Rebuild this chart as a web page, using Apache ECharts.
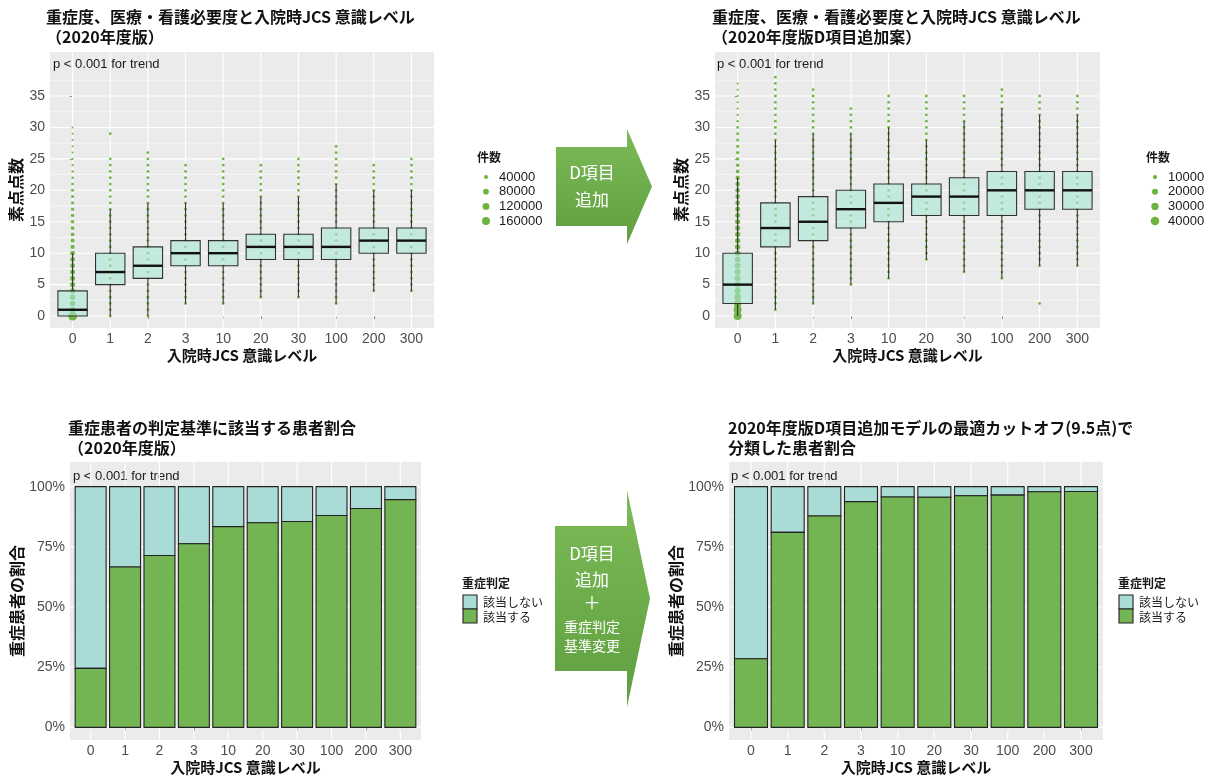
<!DOCTYPE html>
<html>
<head>
<meta charset="utf-8">
<script src="https://cdn.jsdelivr.net/npm/echarts@6/dist/echarts.min.js"></script>
<style>
  html, body { margin: 0; padding: 0; background: #ffffff; }
  #chart { width: 1215px; height: 778px; }
</style>
</head>
<body>
<div id="chart"></div>
<script>
// ---- data ----
const jcsLevels = ['0', '1', '2', '3', '10', '20', '30', '100', '200', '300'];

// 素点点数 box statistics per JCS level: [lower whisker, Q1, median, Q3, upper whisker]
const box2020 = [
  [0, 0, 1, 4, 10], [0, 5, 7, 10, 17], [0, 6, 8, 11, 18], [2, 8, 10, 12, 18], [2, 8, 10, 12, 18],
  [3, 9, 11, 13, 19], [3, 9, 11, 13, 19], [2, 9, 11, 14, 21], [4, 10, 12, 14, 20], [4, 10, 12, 14, 20]
];
const boxD = [
  [0, 2, 5, 10, 22], [1, 11, 14, 18, 28], [2, 12, 15, 19, 29], [5, 14, 17, 20, 29], [6, 15, 18, 21, 30],
  [9, 16, 19, 21, 28], [7, 16, 19, 22, 31], [6, 16, 20, 23, 33], [8, 17, 20, 23, 32], [8, 17, 20, 23, 32]
];

// contiguous observed score range (lowest, highest) per JCS level
const dotRange2020 = [[0, 30], [0, 25], [0, 26], [2, 24], [2, 25], [3, 24], [3, 25], [2, 27], [4, 24], [4, 25]];
const dotRangeD = [[0, 37], [1, 38], [2, 36], [5, 33], [6, 35], [9, 35], [7, 35], [6, 36], [8, 35], [8, 35]];
// isolated scores outside those ranges: [JCS index, score]
const loneDots2020 = [[1, 29]];
const loneDotsD = [[8, 2]];

// 件数 at JCS 0 for each score 0,1,2,...
const countJcs0_2020 = [200000, 80000, 75000, 72000, 70000, 68000, 66000, 63000, 60000, 57000, 54000,
  44000, 40000, 37000, 34000, 31000, 29000, 27000, 25000, 23000, 21000, 18000, 16000, 14000, 12500,
  11000, 9500, 8000, 7000, 6000, 5000];
const countJcs0_D = [36000, 34000, 32000, 24000, 22000, 21000, 20000, 19000, 18500, 18000, 17000,
  16000, 15500, 15000, 14500, 14000, 13500, 13000, 12500, 12000, 11500, 11000, 10500, 7500, 7000, 6500,
  6000, 5500, 5000, 4500, 4000, 3200, 2800, 2500, 2200, 2000, 1800, 1600];

// size legend breaks
const sizeBreaks2020 = [40000, 80000, 120000, 160000];
const sizeBreaksD = [10000, 20000, 30000, 40000];

// share of patients meeting the severity criterion (該当する)
const share2020 = [0.245, 0.666, 0.714, 0.763, 0.834, 0.850, 0.855, 0.880, 0.909, 0.946];
const shareCutoff = [0.285, 0.810, 0.878, 0.938, 0.957, 0.956, 0.962, 0.965, 0.979, 0.980];

const scoreBreaks = [0, 5, 10, 15, 20, 25, 30, 35];
const scoreMinor = [2.5, 7.5, 12.5, 17.5, 22.5, 27.5, 32.5, 37.5];
const pctBreaks = [0, 0.25, 0.5, 0.75, 1];
const pctMinor = [0.125, 0.375, 0.625, 0.875];

// ---- styling ----
const FONT = '"Liberation Sans", "Noto Sans CJK JP", sans-serif';
const JFONT = '"Noto Sans CJK JP", sans-serif';
const PANEL_BG = '#ebebeb';
const DOT_GREEN = '#6db33f';
const BOX_FILL = 'rgba(168,230,211,0.6)';
const BAR_GREEN = '#72b552';
const BAR_LIGHT = '#a9dcd6';
const INK = '#222222';

const panels = [
  { left: 50, top: 52, width: 384, height: 276 },
  { left: 715, top: 52, width: 385, height: 276 },
  { left: 70, top: 462, width: 351, height: 278 },
  { left: 729, top: 462, width: 374, height: 278 }
];

const chart = echarts.init(document.getElementById('chart'), null, { renderer: 'canvas' });

function xAxisFor(g) {
  return {
    gridIndex: g, type: 'value', min: -0.6, max: 9.6,
    axisLine: { show: false },
    axisTick: { show: true, customValues: [0, 1, 2, 3, 4, 5, 6, 7, 8, 9], length: 3, lineStyle: { color: '#333', width: 1 } },
    axisLabel: {
      customValues: [0, 1, 2, 3, 4, 5, 6, 7, 8, 9],
      formatter: v => jcsLevels[Math.round(v)],
      color: '#4d4d4d', fontSize: 14, fontFamily: FONT, margin: 4
    },
    splitLine: { show: false },
    name: '入院時JCS 意識レベル', nameLocation: 'middle', nameGap: 20,
    nameTextStyle: { color: '#111', fontSize: 15, fontWeight: 'bold', fontFamily: JFONT }
  };
}
function yAxisFor(g, isPct) {
  const breaks = isPct ? pctBreaks : scoreBreaks;
  return {
    gridIndex: g, type: 'value',
    min: isPct ? -0.0525 : -1.9, max: isPct ? 1.1025 : 42,
    axisLine: { show: false },
    axisTick: { show: true, customValues: breaks, length: 3, lineStyle: { color: '#333', width: 1 } },
    axisLabel: {
      customValues: breaks,
      formatter: v => isPct ? Math.round(v * 100) + '%' : String(v),
      color: '#4d4d4d', fontSize: 14, fontFamily: FONT, margin: 5
    },
    splitLine: { show: false },
    name: isPct ? '重症患者の割合' : '素点点数', nameLocation: 'middle', nameRotate: 90,
    nameGap: isPct ? 44 : 26,
    nameTextStyle: { color: '#111', fontSize: 16, fontWeight: 'bold', fontFamily: JFONT }
  };
}

// white panel grid lines drawn through the axes' own scales
function hLines(g, values, width) {
  return {
    type: 'custom', xAxisIndex: g, yAxisIndex: g, silent: true, z: 1,
    data: values.map(v => [0, v]),
    encode: { x: 0, y: 1 },
    renderItem(params, api) {
      const cs = params.coordSys;
      const y = api.coord([0, api.value(1)])[1];
      return { type: 'line', shape: { x1: cs.x, y1: y, x2: cs.x + cs.width, y2: y }, style: { stroke: '#ffffff', lineWidth: width } };
    }
  };
}
function vLines(g) {
  return {
    type: 'custom', xAxisIndex: g, yAxisIndex: g, silent: true, z: 1,
    data: jcsLevels.map((c, i) => [i, 0]),
    encode: { x: 0, y: 1 },
    renderItem(params, api) {
      const cs = params.coordSys;
      const x = api.coord([api.value(0), 0])[0];
      return { type: 'line', shape: { x1: x, y1: cs.y, x2: x, y2: cs.y + cs.height }, style: { stroke: '#ffffff', lineWidth: 1.1 } };
    }
  };
}

// geom_count style points: one dot per observed integer score
function countDots(g, ranges, lone, zeroCounts, k) {
  const pts = [];
  ranges.forEach((r, i) => {
    for (let s = r[0]; s <= r[1]; s++) {
      pts.push([i, s, i === 0 ? zeroCounts[s] : null]);
    }
  });
  lone.forEach(d => pts.push([d[0], d[1], null]));
  return {
    type: 'scatter', xAxisIndex: g, yAxisIndex: g, silent: true, z: 2,
    data: pts,
    symbol: 'circle',
    symbolSize: v => v[2] == null ? 2.8 : Math.max(2, k * Math.sqrt(v[2])),
    itemStyle: { color: DOT_GREEN, opacity: 0.95 }
  };
}

function boxes(g, stats) {
  return {
    type: 'custom', xAxisIndex: g, yAxisIndex: g, silent: true, z: 3,
    data: stats.map((b, i) => [i].concat(b)),
    encode: { x: 0, y: [1, 2, 3, 4, 5] },
    renderItem(params, api) {
      const x = api.value(0);
      const half = api.size([0.78, 0])[0] / 2;
      const pLo = api.coord([x, api.value(1)]);
      const pQ1 = api.coord([x, api.value(2)]);
      const pMed = api.coord([x, api.value(3)]);
      const pQ3 = api.coord([x, api.value(4)]);
      const pHi = api.coord([x, api.value(5)]);
      return {
        type: 'group', children: [
          { type: 'line', shape: { x1: pLo[0], y1: pLo[1], x2: pQ1[0], y2: pQ1[1] }, style: { stroke: '#333', lineWidth: 1.1 } },
          { type: 'line', shape: { x1: pQ3[0], y1: pQ3[1], x2: pHi[0], y2: pHi[1] }, style: { stroke: '#333', lineWidth: 1.1 } },
          { type: 'rect', shape: { x: pQ1[0] - half, y: pQ3[1], width: half * 2, height: pQ1[1] - pQ3[1] }, style: { fill: BOX_FILL, stroke: '#333', lineWidth: 1.1 } },
          { type: 'line', shape: { x1: pMed[0] - half, y1: pMed[1], x2: pMed[0] + half, y2: pMed[1] }, style: { stroke: '#111', lineWidth: 2.4 } }
        ]
      };
    }
  };
}

function stackedBars(g, share) {
  return {
    type: 'custom', xAxisIndex: g, yAxisIndex: g, silent: true, z: 3,
    data: share.map((p, i) => [i, p]),
    encode: { x: 0, y: 1 },
    renderItem(params, api) {
      const x = api.value(0);
      const half = api.size([0.9, 0])[0] / 2;
      const p0 = api.coord([x, 0]);
      const pS = api.coord([x, api.value(1)]);
      const p1 = api.coord([x, 1]);
      return {
        type: 'group', children: [
          { type: 'rect', shape: { x: p0[0] - half, y: p1[1], width: half * 2, height: pS[1] - p1[1] }, style: { fill: BAR_LIGHT, stroke: INK, lineWidth: 1.1 } },
          { type: 'rect', shape: { x: p0[0] - half, y: pS[1], width: half * 2, height: p0[1] - pS[1] }, style: { fill: BAR_GREEN, stroke: INK, lineWidth: 1.1 } }
        ]
      };
    }
  };
}

// ---- decorations: size legends, fill legends, trend notes, arrows ----
function txt(x, y, text, size, weight, family) {
  return {
    type: 'text', x: x, y: y,
    style: { text: text, fill: '#1a1a1a', font: (weight || 'normal') + ' ' + size + 'px ' + (family || JFONT), textVerticalAlign: 'middle' }
  };
}
function sizeLegend(x, breaks, k) {
  const els = [txt(x, 157, '件数', 12, 'bold')];
  breaks.forEach((b, i) => {
    const y = 177 + i * 14.7;
    els.push({ type: 'circle', shape: { cx: x + 9, cy: y, r: k * Math.sqrt(b) / 2 }, style: { fill: DOT_GREEN } });
    els.push(txt(x + 22, y, String(b), 13, 'normal', FONT));
  });
  return els;
}
function fillLegend(x) {
  return [
    txt(x, 583, '重症判定', 12, 'bold'),
    { type: 'rect', shape: { x: x + 1, y: 595, width: 14, height: 14 }, style: { fill: BAR_LIGHT, stroke: INK, lineWidth: 1.1 } },
    { type: 'rect', shape: { x: x + 1, y: 609, width: 14, height: 14 }, style: { fill: BAR_GREEN, stroke: INK, lineWidth: 1.1 } },
    txt(x + 21, 602, '該当しない', 12, 'normal'),
    txt(x + 21, 617, '該当する', 12, 'normal')
  ];
}
function arrow(x0, x1, tip, bodyTop, bodyBot, headTop, headBot) {
  const cy = (headTop + headBot) / 2;
  return {
    type: 'polygon',
    shape: { points: [[x0, bodyTop], [x1, bodyTop], [x1, headTop], [tip, cy], [x1, headBot], [x1, bodyBot], [x0, bodyBot]] },
    style: {
      fill: new echarts.graphic.LinearGradient(0, 0, 0, 1, [
        { offset: 0, color: '#7dbb58' }, { offset: 1, color: '#5f9f3f' }
      ])
    }
  };
}
function whiteText(x, y, text, size) {
  return { type: 'text', x: x, y: y, style: { text: text, fill: '#ffffff', font: size + 'px ' + JFONT, textAlign: 'center', textVerticalAlign: 'middle' } };
}

const graphics = []
  .concat(sizeLegend(477, sizeBreaks2020, 0.02))
  .concat(sizeLegend(1146, sizeBreaksD, 0.0425))
  .concat(fillLegend(462))
  .concat(fillLegend(1118))
  .concat([
    txt(53, 64, 'p < 0.001 for trend', 13, 'normal', FONT),
    txt(717, 64, 'p < 0.001 for trend', 13, 'normal', FONT),
    txt(73, 476, 'p < 0.001 for trend', 13, 'normal', FONT),
    txt(731, 476, 'p < 0.001 for trend', 13, 'normal', FONT),
    arrow(556, 627, 652, 147, 226, 129, 244),
    whiteText(592, 173, 'D項目', 17),
    whiteText(592, 200, '追加', 17),
    arrow(555, 627, 650, 526, 671, 490, 707),
    whiteText(592, 554, 'D項目', 17),
    whiteText(592, 580, '追加', 17),
    whiteText(592, 603, '＋', 17),
    whiteText(592, 627, '重症判定', 14),
    whiteText(592, 646, '基準変更', 14)
  ]);

const titleStyle = { color: '#111', fontSize: 16, fontWeight: 'bold', fontFamily: JFONT, lineHeight: 20 };

const option = {
  backgroundColor: '#ffffff',
  animation: false,
  title: [
    { text: '重症度、医療・看護必要度と入院時JCS 意識レベル\n（2020年度版）', left: 46, top: 7, textStyle: titleStyle, padding: 0 },
    { text: '重症度、医療・看護必要度と入院時JCS 意識レベル\n（2020年度版D項目追加案）', left: 712, top: 7, textStyle: titleStyle, padding: 0 },
    { text: '重症患者の判定基準に該当する患者割合\n（2020年度版）', left: 68, top: 418, textStyle: titleStyle, padding: 0 },
    { text: '2020年度版D項目追加モデルの最適カットオフ(9.5点)で\n分類した患者割合', left: 728, top: 418, textStyle: titleStyle, padding: 0 }
  ],
  grid: panels.map(p => Object.assign({ show: true, backgroundColor: PANEL_BG, borderWidth: 0, containLabel: false }, p)),
  xAxis: [xAxisFor(0), xAxisFor(1), xAxisFor(2), xAxisFor(3)],
  yAxis: [yAxisFor(0, false), yAxisFor(1, false), yAxisFor(2, true), yAxisFor(3, true)],
  series: [
    hLines(0, scoreMinor, 0.55), hLines(0, scoreBreaks, 1.1), vLines(0),
    hLines(1, scoreMinor, 0.55), hLines(1, scoreBreaks, 1.1), vLines(1),
    hLines(2, pctMinor, 0.55), hLines(2, pctBreaks, 1.1), vLines(2),
    hLines(3, pctMinor, 0.55), hLines(3, pctBreaks, 1.1), vLines(3),
    countDots(0, dotRange2020, loneDots2020, countJcs0_2020, 0.02),
    countDots(1, dotRangeD, loneDotsD, countJcs0_D, 0.0425),
    boxes(0, box2020),
    boxes(1, boxD),
    stackedBars(2, share2020),
    stackedBars(3, shareCutoff)
  ],
  graphic: graphics
};

chart.setOption(option);
</script>
</body>
</html>
